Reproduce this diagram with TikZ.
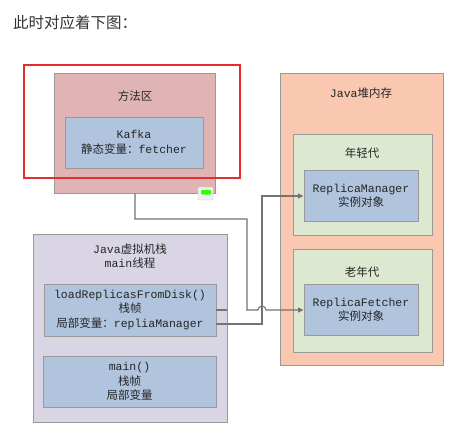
\documentclass[tikz,border=0pt]{standalone}
\usepackage{fontspec}
\setmonofont{Liberation Mono}
\newfontfamily\cjk{Noto Sans CJK SC}
\newcommand{\zh}[1]{{\cjk #1}}
\usetikzlibrary{arrows.meta,positioning,calc}
\definecolor{methodpink}{RGB}{224,180,180}
\definecolor{frameblue}{RGB}{176,196,222}
\definecolor{heapsalmon}{RGB}{250,200,176}
\definecolor{gengreen}{RGB}{221,232,208}
\definecolor{stacklilac}{RGB}{218,213,228}
\definecolor{linegray}{RGB}{115,115,115}
\definecolor{markred}{RGB}{230,45,45}

\begin{document}
\begin{tikzpicture}[x=1pt,y=-1pt,
	region/.style={draw=gray!80,line width=0.9pt,inner sep=0pt},
	frame/.style={region,fill=frameblue,align=center,text=black!85,
		font=\ttfamily\fontsize{11.5}{14.5}\selectfont},
	label/.style={align=center,text=black!85,inner sep=0pt,
		font=\ttfamily\fontsize{11.5}{14.5}\selectfont},
	wire/.style={draw=linegray,line width=1.1pt},
	conn/.style={wire,-{Triangle[length=5.5pt,width=5pt]}}]
	
	\useasboundingbox (0,0) rectangle (474,433);
	\fill[white] (0,0) rectangle (474,433);
	
	% title
	\node[anchor=west,inner sep=0pt,text=black!80,font=\cjk\fontsize{15.5}{18}\selectfont]
	(heading) at (13,23) {此时对应着下图：};
	
	% method area
	\node[region,fill=methodpink,minimum width=161pt,minimum height=120pt]
	(method) at (135,133) {};
	\node[label] (methodlbl) at (135,96) {\zh{方法区}};
	\node[frame,minimum width=138pt,minimum height=51pt]
	(kafka) at (134,142.5) {Kafka\\\zh{静态变量：}fetcher};
	
	% heap
	\node[region,fill=heapsalmon,minimum width=163pt,minimum height=292pt]
	(heap) at (361.5,219) {};
	\node[label] (heaplbl) at (361,93) {Java\zh{堆内存}};
	\node[region,fill=gengreen,minimum width=139pt,minimum height=101pt]
	(young) at (362.5,184.5) {};
	\node[label] (younglbl) at (362,153) {\zh{年轻代}};
	\node[frame,minimum width=114pt,minimum height=51pt]
	(manager) at (361,196) {ReplicaManager\\\zh{实例对象}};
	\node[region,fill=gengreen,minimum width=139pt,minimum height=103pt]
	(old) at (362.5,300.5) {};
	\node[label] (oldlbl) at (362,272) {\zh{老年代}};
	\node[frame,minimum width=114pt,minimum height=51pt]
	(fetcher) at (361,310) {ReplicaFetcher\\\zh{实例对象}};
	
	% vm stack
	\node[region,fill=stacklilac,minimum width=194pt,minimum height=188pt]
	(stack) at (130,328) {};
	\node[label] (stacklbl) at (130,256) {Java\zh{虚拟机栈}\\main\zh{线程}};
	\node[frame,minimum width=172pt,minimum height=52pt]
	(load) at (130,310) {loadReplicasFromDisk()\\\zh{栈帧}\\\zh{局部变量：}repliaManager};
	\node[frame,minimum width=173pt,minimum height=51pt]
	(mainframe) at (129.5,381.5) {main()\\\zh{栈帧}\\\zh{局部变量}};
	
	% handle
	\filldraw[fill=gray!12,draw=gray!45,rounded corners=1pt] (198,187) rectangle (213,200);
	\fill[green!75!lime,rounded corners=1pt] (201,190) rectangle (211,194.5);
	
	% references
	\draw[wire] (load.east) -- (stack.east |- load.east);
	\draw[conn] (load.east |- 0,324) -- (262,324) |- (manager.west);
	\draw[conn] (method.south) -- (135,219) -| (247,310) -- (258,310)
	arc[start angle=180,end angle=0,radius=4pt] -- (fetcher.west);
	
	% highlight
	\draw[markred,line width=1.3pt] (24,65) rectangle (240,178);
	
\end{tikzpicture}
\end{document}
